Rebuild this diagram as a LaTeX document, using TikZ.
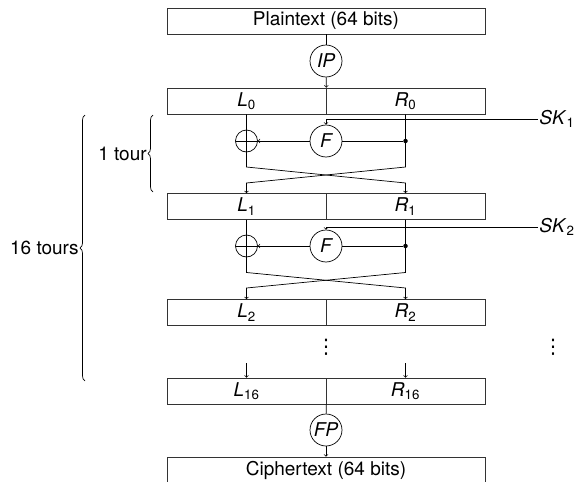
\documentclass[tikz,border=0pt]{standalone}
\usepackage{fontspec}
\setmainfont{TeX Gyre Heros}
\newfontfamily\symfont{DejaVu Sans}
\usetikzlibrary{positioning, decorations.pathreplacing, calc}
\newcommand{\vn}[2]{\textit{#1}\textsubscript{#2}}

\begin{document}
\begin{tikzpicture}[x=1pt, y=-1pt, line width=0.7pt, font=\fontsize{19}{22}\selectfont,
    half/.style={draw=black!80, minimum width=159pt, minimum height=26pt, inner sep=0pt},
    full/.style={draw=black!80, minimum width=318pt, minimum height=26pt, inner sep=0pt},
    perm/.style={draw, circle, minimum size=32pt, inner sep=0pt, font=\fontsize{19}{22}\selectfont\itshape},
    xor/.style={draw, circle, minimum size=22pt, inner sep=0pt,
      path picture={\draw (path picture bounding box.north) -- (path picture bounding box.south)
        (path picture bounding box.west) -- (path picture bounding box.east);}},
    joint/.style={circle, fill, minimum size=4.5pt, inner sep=0pt},
    key/.style={anchor=west, inner sep=1pt},
    skip/.style={inner sep=0pt, font=\fontsize{20}{22}\symfont},
    tourbrace/.style={decorate, decoration={brace, amplitude=5pt}}]
  \useasboundingbox (0,0) rectangle (582,482);

  % entree
  \node[full] (pt) at (326,21) {Plaintext (64 bits)};
  \node[perm] (ip) at (326,61) {IP};
  \node[half] (l0) at (246.5,101) {\vn{L}{0}};
  \node[half] (r0) at (405.5,101) {\vn{R}{0}};
  \draw (pt) -- (ip);
  \draw[->] (ip) -- (l0.north east);

  % tour 1
  \node[perm] (f1) at (326,141) {F};
  \node[xor] (x1) at (246.5,141) {};
  \node[joint] (d1) at (405.5,141) {};
  \node[key] (sk1) at (538,119) {\vn{SK}{1}};
  \coordinate (a1) at (246.5,167);
  \coordinate (b1) at (405.5,167);
  \coordinate (c1) at (246.5,183);
  \coordinate (e1) at (405.5,183);
  \node[half] (l1) at (246.5,206.5) {\vn{L}{1}};
  \node[half] (r1) at (405.5,206.5) {\vn{R}{1}};
  \draw[->] (l0.south) -- (a1) -- (e1) -- (r1.north);
  \draw[->] (r0.south) -- (b1) -- (c1) -- (l1.north);
  \draw (d1) -- (f1);
  \draw[->] (f1) -- (x1);
  \draw[->] (sk1.west) -| (f1.north);

  % tour 2
  \node[perm] (f2) at (326,246) {F};
  \node[xor] (x2) at (246.5,246) {};
  \node[joint] (d2) at (405.5,246) {};
  \node[key] (sk2) at (538,227) {\vn{SK}{2}};
  \coordinate (a2) at (246.5,272.5);
  \coordinate (b2) at (405.5,272.5);
  \coordinate (c2) at (246.5,288);
  \coordinate (e2) at (405.5,288);
  \node[half] (l2) at (246.5,312.5) {\vn{L}{2}};
  \node[half] (r2) at (405.5,312.5) {\vn{R}{2}};
  \draw[->] (l1.south) -- (a2) -- (e2) -- (r2.north);
  \draw[->] (r1.south) -- (b2) -- (c2) -- (l2.north);
  \draw (d2) -- (f2);
  \draw[->] (f2) -- (x2);
  \draw[->] (sk2.west) -| (f2.north);

  \node[skip] (dots) at (326,347) {⋮};
  \node[skip] (kdots) at (553,347) {⋮};

  % sortie
  \node[half] (l16) at (246.5,391) {\vn{L}{16}};
  \node[half] (r16) at (405.5,391) {\vn{R}{16}};
  \coordinate (g1) at (246.5,363);
  \coordinate (g2) at (405.5,363);
  \draw[->] (g1) -- (l16);
  \draw[->] (g2) -- (r16);
  \node[perm] (fp) at (326,430) {FP};
  \node[full] (ct) at (326,470) {Ciphertext (64 bits)};
  \draw (l16.south east) -- (fp);
  \draw[->] (fp) -- (ct);

  % accolades
  \draw[tourbrace] (153,192) -- (153,115);
  \node[anchor=east, inner sep=1pt] (tour) at (148,153.5) {1 tour};
  \draw[tourbrace] (85,381) -- (85,115);
  \node[anchor=east, inner sep=1pt] (tours) at (80,248) {16 tours};
\end{tikzpicture}
\end{document}
